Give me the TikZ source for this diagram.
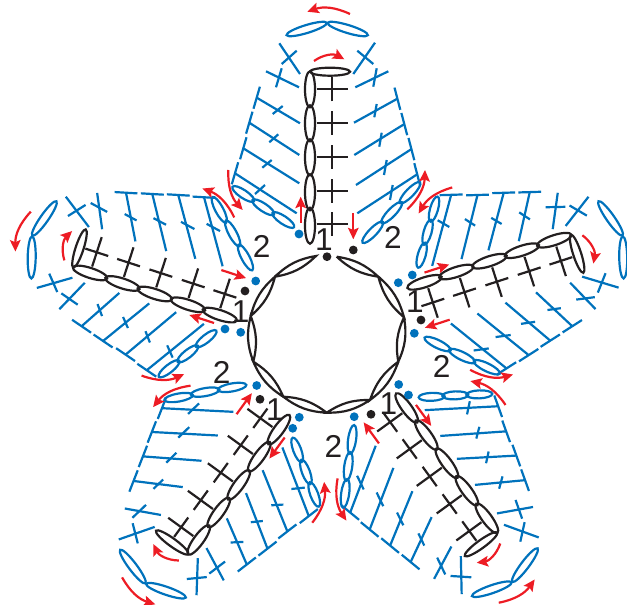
\documentclass[tikz,border=0pt]{standalone}
\usepackage{fontspec}
\setmainfont{Liberation Sans}
\usetikzlibrary{arrows.meta}
\definecolor{yarnblue}{RGB}{0,114,188}
\definecolor{yarnred}{RGB}{237,28,36}
\definecolor{yarnblack}{RGB}{35,31,32}
\begin{document}
\begin{tikzpicture}[x=0.02cm,y=-0.02cm,
  blk/.style={draw=yarnblack, line width=1.25pt},
  blu/.style={draw=yarnblue, line width=1.25pt},
  redarr/.style={draw=yarnred, line width=1.25pt, -{Stealth[length=6.5pt,width=6pt,inset=1.2pt]}},
  bdot/.style={circle, fill=yarnblue, inner sep=0pt, minimum size=5pt},
  kdot/.style={circle, fill=yarnblack, inner sep=0pt, minimum size=5pt},
  lbl/.style={inner sep=0pt, text=yarnblack, font=\fontsize{18}{18}\selectfont}
]
\clip (0,0) rectangle (627,605);
% Ring of ten links
\foreach \i/\px/\py in {0/336.7/256.7,1/378.3/276.7,2/404/317.3,3/398.3/361.7,4/370/400,
  5/326.7/412.7,6/283.3/396.7,7/253.3/361.7,8/250.7/316,9/275/276.7,10/316/256}
  \coordinate (r\i) at (\px,\py);
\foreach \i/\j in {0/1,1/2,2/3,3/4,4/5,5/6,6/7,7/8,8/9,9/10}
  \draw[blk] (r\i) to[bend left=17] (r\j) to[bend left=17] (r\i);
% One petal, five times
\foreach \rot/\dx/\dy in {0/0/0,72/-1.2/-2.7,-72/2/-2.3,144/1.7/-5.5,216/2.4/-3.8} {
\begin{scope}[shift={(327+\dx,335+\dy)},rotate=-\rot,y=0.02cm]
  % black chain and crosses
  \foreach \cy in {109.3,142.7,177.7,211.7,245.7}
    \draw[blk] (-17,\cy) ellipse (5 and 18);
  \draw[blk] (3,263.3) ellipse (20 and 4);
  \foreach \cy in {111,144.3,178.3,212.3,245.7} {
    \draw[blk] (-10.3,\cy) -- (20.7,\cy);
    \draw[blk] (4.7,\cy-12) -- (4.7,\cy+12);
  }
  % blue stitches, right side
  \foreach \xa/\ya/\xb/\yb in {30.3/121.7/90.2/160.7,29/150/84.4/185.9,27.3/180/77.3/210.9,27/212.3/70.4/236.3,
    28.3/247.7/61.3/263.7,26.3/261/48/292.3,30.3/284.3/46.3/271,
    65.7/150/63/135,59.7/175/57/160,54.7/202.3/52.3/188.3,49.7/231/47.3/217.7,49.7/266.7/46.3/248.3,
    67.5/247.4/73.3/225.2,74.4/222/80.2/199.8,81.5/197/87.3/174.8,87.3/171.8/93.1/149.6}
    \draw[blu] (\xa,\ya) -- (\xb,\yb);
  % blue stitches, left side
  \foreach \xa/\ya/\xb/\yb in {-30.3/121.7/-92/161.7,-27.7/151.7/-83.7/186.7,-27.7/180/-77.7/212.3,-27/211.7/-70.3/237.3,
    -28/247.7/-61/263.7,-27/261/-47.7/291.7,-30.3/284.3/-45.3/271,
    -62/150/-72/141,-55.3/175/-64.7/167.3,-48.7/200.7/-57.7/192.7,-44.3/229/-54.3/221,-45.3/266.7/-51/247.7,
    -67.1/248.3/-73.5/226.3,-74.5/223.3/-80.9/201.3,-80.5/197.7/-86.9/175.7,-88.8/172.7/-95.2/150.7}
    \draw[blu] (\xa,\ya) -- (\xb,\yb);
  % blue links
  \foreach \ox/\oy/\oa/\rx in {-83.7/141/-33.7/13,-63.7/127.7/-33.7/13,-43.7/115/-33.7/13,
    45.7/102.7/46/14.5,64.7/122.3/46/14.5,83/142.3/46/14.5,-20.3/306/17/21,20.7/306/-17/21}
    \draw[blu,shift={(\ox,\oy)},rotate=\oa] (0,0) ellipse [x radius=\rx,y radius=4];
  % red arrows
  \draw[redarr] (23,321) to[bend right=22] (-19.7,323.3);
  \draw[redarr] (-13,274) to[bend left=32] (17.3,275.7);
  \draw[redarr] (-26.3,112.3) -- (-26.3,138.3);
  \draw[redarr] (26.3,121.7) -- (26.3,95.7);
  \draw[redarr] (80.3,125.7) to[bend right=22] (98,165);
  \draw[redarr] (-98.7,165) to[bend right=22] (-84.3,125);
\end{scope}
}
% Start points
\foreach \n/\px/\py in {a/299/234,b/412.3/275,c/398.3/282.7,d/414.3/333.3,e/398.7/384.5,f/408.5/395,
  g/354.2/416.7,h/299.3/417.3,i/292.7/428.3,j/256.7/385.5,k/240.7/332.3,l/225/329,m/255.7/281}
  \node[bdot] (blue-\n) at (\px,\py) {};
\foreach \n/\px/\py in {a/327/256.7,b/353.3/250,c/421/320,d/371/414.3,e/260/399.3,f/245/291}
  \node[kdot] (black-\n) at (\px,\py) {};
% Round numbers
\foreach \n/\px/\py in {a/324/240,b/415/301.7,c/388.3/403.3,d/275/410,e/240.7/311.7}
  \node[lbl] (one-\n) at (\px,\py) {1};
\foreach \n/\px/\py in {a/393/237,b/441.7/366.7,c/333.3/446.7,d/221.7/372,e/261.7/246.7}
  \node[lbl] (two-\n) at (\px,\py) {2};
\end{tikzpicture}
\end{document}
